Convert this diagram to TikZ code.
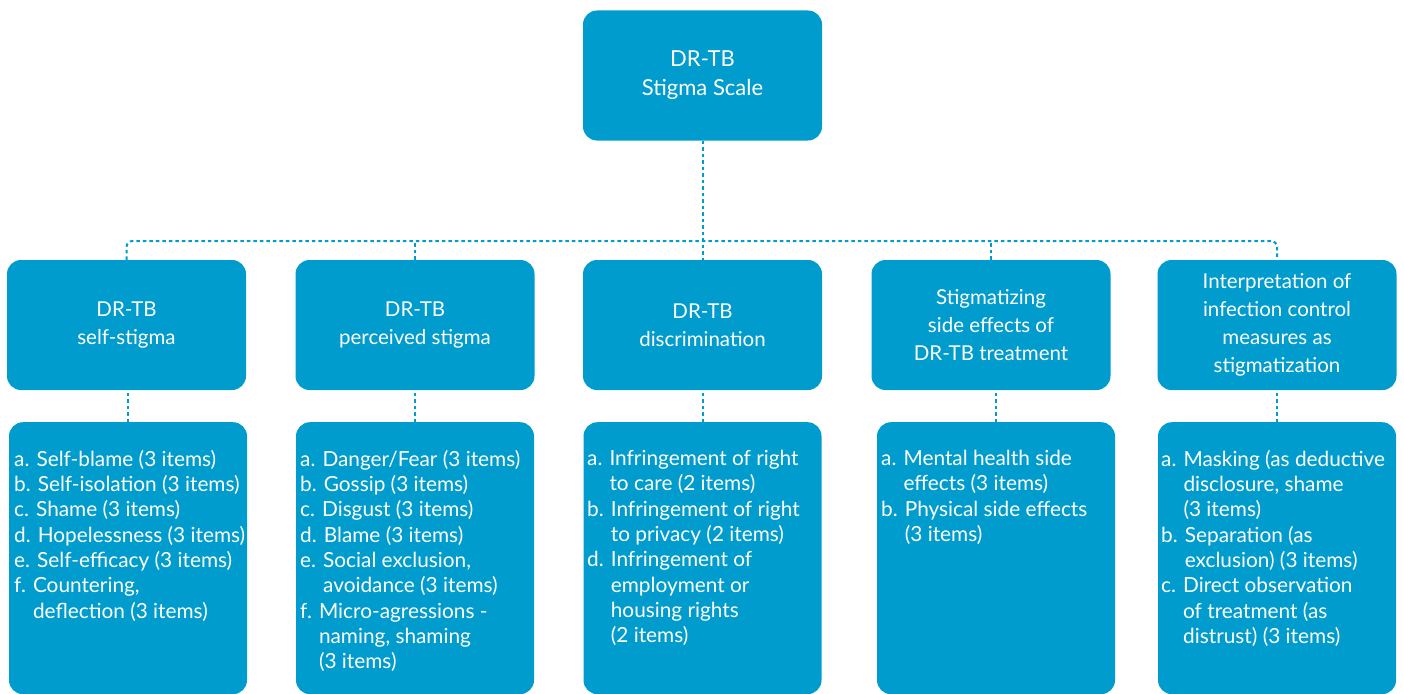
\documentclass[tikz,border=0pt]{standalone}
\usepackage{fontspec}
\setmainfont{Lato}
\definecolor{boxblue}{RGB}{0,156,205}
\newcommand\hang[1]{\phantom{#1}}
\begin{document}
\begin{tikzpicture}[x=1pt,y=-1pt,
  box/.style={fill=boxblue, rounded corners=14pt, text=white, align=center,
    minimum width=239pt, minimum height=130pt, inner sep=0pt,
    font=\fontsize{20.5}{28}\selectfont},
  topbox/.style={box, font=\fontsize{22}{29}\selectfont},
  listbox/.style={fill=boxblue, rounded corners=14pt, minimum width=238pt,
    minimum height=272pt, anchor=north, inner sep=0pt},
  listtext/.style={text=white, align=left, anchor=north west, inner sep=0pt,
    font=\fontsize{20.8}{25.3}\selectfont},
  link/.style={draw=boxblue, line width=2pt, dash pattern=on 3.5pt off 3pt}]
\useasboundingbox (0,0) rectangle (1404,693);
\clip (0,0) rectangle (1404,693);

% top
\node[topbox] (top) at (702.5,75.5) {DR-TB\\Stigma Scale};

% middle row
\node[box] (m1) at (126.5,325) {DR-TB\\self-stigma};
\node[box] (m2) at (415,325) {DR-TB\\perceived stigma};
\node[box] (m3) at (702.5,325) {DR-TB\\discrimination};
\node[box] (m4) at (991,325) {Stigmatizing\\side effects of\\DR-TB treatment};
\node[box] (m5) at (1277,325) {Interpretation of\\infection control\\measures as\\stigmatization};

% bottom row
\node[listbox] (b1) at (128,422) {};
\node[listbox] (b2) at (415,422) {};
\node[listbox] (b3) at (702.5,422) {};
\node[listbox] (b4) at (996,422) {};
\node[listbox] (b5) at (1277,422) {};

\node[listtext] (t1) at (14,450) {a. Self-blame (3 items)\\b. Self-isolation (3 items)\\c. Shame (3 items)\\d. Hopelessness (3 items)\\e. Self-efficacy (3 items)\\f. Countering,\\\hang{f. }deflection (3 items)};
\node[listtext] (t2) at (300,450) {a. Danger/Fear (3 items)\\b. Gossip (3 items)\\c. Disgust (3 items)\\d. Blame (3 items)\\e. Social exclusion,\\\hang{e. }avoidance (3 items)\\f. Micro-agressions -\\\hang{f. }naming, shaming\\\hang{f. }(3 items)};
\node[listtext] (t3) at (587,450) {a. Infringement of right\\\hang{a. }to care (2 items)\\b. Infringement of right\\\hang{b. }to privacy (2 items)\\d. Infringement of\\\hang{d. }employment or\\\hang{d. }housing rights\\\hang{d. }(2 items)};
\node[listtext] (t4) at (881,450) {a. Mental health side\\\hang{a. }effects (3 items)\\b. Physical side effects\\\hang{b. }(3 items)};
\node[listtext] (t5) at (1161,450) {a. Masking (as deductive\\\hang{a. }disclosure, shame\\\hang{a. }(3 items)\\b. Separation (as\\\hang{b. }exclusion) (3 items)\\c. Direct observation\\\hang{c. }of treatment (as\\\hang{c. }distrust) (3 items)};

% connectors
\coordinate (hy) at (702.5,241);
\draw[link] (top.south) -- (m3.north);
\draw[link, rounded corners=6pt] (m1.north) -- (m1.north |- hy) -- (m5.north |- hy) -- (m5.north);
\draw[link] (m2.north) -- (m2.north |- hy);
\draw[link] (m4.north) -- (m4.north |- hy);
\foreach \i in {1,...,5}{
  \draw[link] (b\i.north) -- (b\i.north |- m\i.south);
}
\end{tikzpicture}
\end{document}
